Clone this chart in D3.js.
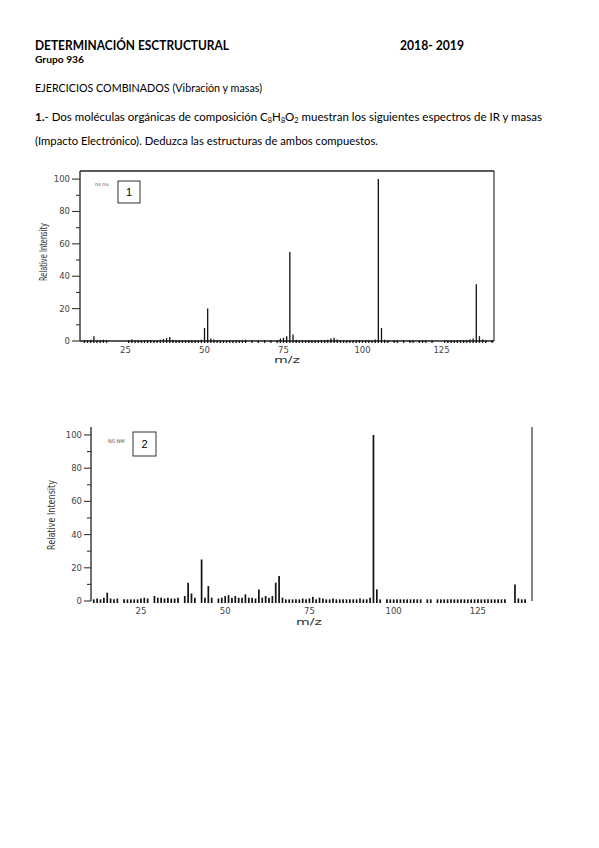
<!DOCTYPE html>
<html><head><meta charset="utf-8">
<script src="https://cdn.jsdelivr.net/npm/d3@7"></script>
<style>body{margin:0;background:#fff}</style>
</head><body><svg id="c" width="599" height="848"></svg>
<script>
// ---------- data ----------
const yTicks = [0, 20, 40, 60, 80, 100];
const yMinorTicks = [10, 30, 50, 70, 90];
const xTicks = [25, 50, 75, 100, 125];

// Spectrum 1 (m/z, relative intensity)
const spec1Mz = [12,13,14,15,16,17,18,19,26,27,28,29,30,31,32,33,34,35,36,37,38,39,40,41,42,43,44,45,46,47,48,49,50,51,52,53,54,55,56,57,58,59,60,61,62,63,65,67,69,71,73,74,75,76,77,78,79,80,81,82,83,84,85,86,87,88,89,90,91,92,93,94,95,96,97,98,99,100,101,102,103,104,105,106,107,108,110,111,113,115,116,118,119,120,122,126,127,128,129,130,131,132,133,134,135,136,137,138,139,141];
const spec1Int = [0.5,0.5,0.8,3,0.5,0.5,0.8,0.5,0.5,1,0.5,0.5,0.5,0.5,0.5,0.5,0.5,0.5,0.8,1.2,1.8,2.5,0.8,0.5,0.5,0.5,0.5,0.5,0.5,0.5,0.5,0.8,8,20,1.5,1,0.5,0.5,0.5,0.5,0.5,0.5,0.5,0.5,0.5,0.8,0.5,0.5,0.5,0.5,0.5,1.5,2,3,55,4,0.8,0.5,0.5,0.5,0.5,0.5,0.5,0.5,0.5,0.5,0.8,1.5,2,1,0.5,0.5,0.5,0.5,0.5,0.5,0.5,0.5,0.5,0.5,0.5,1,100,8,0.8,0.5,0.5,0.5,0.5,0.5,0.5,0.5,0.5,0.5,0.5,0.5,0.5,0.5,0.5,0.5,0.5,0.5,0.5,1,1.5,35,3,1,0.5,0.5];

// Spectrum 2 (m/z, relative intensity)
const spec2Mz = [11,12,13,14,15,16,17,18,20,21,22,23,24,25,26,27,29,30,31,32,33,34,35,36,38,39,40,41,43,44,45,46,48,49,50,51,52,53,54,55,56,57,58,59,60,61,62,63,64,65,66,67,68,69,70,71,72,73,74,75,76,77,78,79,80,81,82,83,84,85,86,87,88,89,90,91,92,93,94,95,96,98,99,100,101,102,103,104,105,106,107,108,110,111,113,114,115,116,117,118,119,120,121,122,123,124,125,126,127,128,129,130,131,132,133,136,137,138,139];
const spec2Int = [1,1.5,1,2,5,1.5,1,1.5,1,1,1,1,1,1.5,2,1.5,3,2,2,1.5,2,1.5,1.5,2,3,11,4.5,2,25,2,9,2,1.5,2,3,3.5,2,3,2,2,4,2,2,1.5,7,2,3,2,3,11,15,2,1,1,1,1,1,1.5,1,1.5,2.5,1,2,1.5,1,1,1.5,1,1,1,1,1,1,1,1.5,1,1,2,100,7,1,1,1,1,1,1,1,1,1,1,1,1,1,1,1,1,1,1,1,1,1,1,1,1,1,1,1,1,1,1,1,1,1,1,1,10,1.5,1,1];

const svg = d3.select("#c");
svg.append("rect").attr("width", 599).attr("height", 848).attr("fill", "#fff");

// ---------- header text ----------
const hdrFont = "Lato, 'Open Sans', 'Liberation Sans', sans-serif";
function line(txt, x, y, size, weight, len) {
  const t = svg.append("text").attr("x", x).attr("y", y)
    .attr("font-family", hdrFont).attr("font-size", size)
    .attr("font-weight", weight).attr("fill", "#000").text(txt);
  if (len) t.attr("textLength", len).attr("lengthAdjust", "spacingAndGlyphs");
  return t;
}
line("DETERMINACIÓN ESCTRUCTURAL", 35, 50, 12.5, "bold", 194);
line("2018- 2019", 400, 50, 12.5, "bold", 64);
line("Grupo 936", 35, 63, 9, "bold", 49);
line("EJERCICIOS COMBINADOS (Vibración y masas)", 35, 92, 11, "normal", 227);

const l1 = svg.append("text").attr("x", 35).attr("y", 121)
  .attr("font-family", hdrFont).attr("font-size", 11).attr("fill", "#000")
  .attr("textLength", 507).attr("lengthAdjust", "spacingAndGlyphs");
l1.append("tspan").attr("font-weight", "bold").text("1.");
l1.append("tspan").text("- Dos moléculas orgánicas de composición C");
l1.append("tspan").attr("font-size", 7).attr("dy", 2).text("8");
l1.append("tspan").attr("dy", -2).text("H");
l1.append("tspan").attr("font-size", 7).attr("dy", 2).text("8");
l1.append("tspan").attr("dy", -2).text("O");
l1.append("tspan").attr("font-size", 7).attr("dy", 2).text("2");
l1.append("tspan").attr("dy", -2).text(" muestran los siguientes espectros de IR y masas");
line("(Impacto Electrónico). Deduzca las estructuras de ambos compuestos.", 35, 145, 11, "normal", 343);

// ---------- spectrum drawing ----------
const axFont = "'DejaVu Sans', sans-serif";
function spectrum(cfg) {
  const g = svg.append("g");
  const x = d3.scaleLinear().domain(cfg.xDomain).range(cfg.xRange);
  const y = d3.scaleLinear().domain([0, cfg.yMax]).range(cfg.yRange);
  const x0 = cfg.xRange[0], x1 = cfg.xRange[1];
  const yb = y(0), yt = cfg.yRange[1];

  // frame
  g.append("line").attr("x1", x0).attr("x2", x0).attr("y1", yt).attr("y2", yb)
    .attr("stroke", "#222").attr("stroke-width", 1.3);
  g.append("line").attr("x1", x1).attr("x2", x1).attr("y1", yt).attr("y2", yb)
    .attr("stroke", "#444").attr("stroke-width", 1.3);
  if (cfg.top) g.append("line").attr("x1", x0).attr("x2", x1).attr("y1", yt).attr("y2", yt)
    .attr("stroke", "#222").attr("stroke-width", 1.3);
  if (cfg.bottom) g.append("line").attr("x1", x0).attr("x2", x1).attr("y1", yb).attr("y2", yb)
    .attr("stroke", "#222").attr("stroke-width", 1.3);

  // y ticks
  g.selectAll(".ym").data(yTicks).join("line")
    .attr("x1", x0 - cfg.majorLen).attr("x2", x0).attr("y1", d => y(d)).attr("y2", d => y(d))
    .attr("stroke", "#333").attr("stroke-width", 1.1);
  g.selectAll(".yn").data(yMinorTicks).join("line")
    .attr("x1", x0 - cfg.minorLen).attr("x2", x0).attr("y1", d => y(d)).attr("y2", d => y(d))
    .attr("stroke", "#333").attr("stroke-width", 1.1);
  g.selectAll(".yl").data(yTicks).join("text")
    .attr("x", cfg.labelRight).attr("y", d => y(d) + 3)
    .attr("text-anchor", "end").attr("font-family", axFont).attr("font-size", 8.5)
    .attr("fill", "#444").text(d => d);

  // x tick labels
  g.selectAll(".xl").data(xTicks).join("text")
    .attr("x", d => x(d)).attr("y", cfg.xLabelY)
    .attr("text-anchor", "middle").attr("font-family", axFont).attr("font-size", 8.5)
    .attr("fill", "#444").text(d => d);

  // peaks
  const pk = cfg.mz.map((m, i) => ({ m, v: cfg.int[i] }));
  g.selectAll(".pk").data(pk).join("line")
    .attr("x1", d => x(d.m)).attr("x2", d => x(d.m))
    .attr("y1", y(-1.2)).attr("y2", d => y(d.v))
    .attr("stroke", "#111").attr("stroke-width", cfg.peakW);

  // axis titles
  g.append("text").attr("transform", `translate(${cfg.yTitle[0]},${cfg.yTitle[1]}) rotate(-90)`)
    .attr("text-anchor", "middle").attr("font-family", axFont).attr("font-size", 10)
    .attr("fill", "#333").attr("textLength", cfg.yTitle[2]).attr("lengthAdjust", "spacingAndGlyphs")
    .text("Relative Intensity");
  g.append("text").attr("x", cfg.xTitle[0]).attr("y", cfg.xTitle[1])
    .attr("text-anchor", "middle").attr("font-family", axFont).attr("font-size", 9)
    .attr("fill", "#333").attr("textLength", 26).attr("lengthAdjust", "spacingAndGlyphs")
    .text("m/z");

  // source tag and number box
  g.append("text").attr("x", cfg.tag[0]).attr("y", cfg.tag[1])
    .attr("font-family", axFont).attr("font-size", 5).attr("fill", "#555")
    .text(cfg.tagText);
  g.append("rect").attr("x", cfg.box[0]).attr("y", cfg.box[1])
    .attr("width", cfg.box[2]).attr("height", cfg.box[3])
    .attr("fill", "#fff").attr("stroke", "#333").attr("stroke-width", 1);
  g.append("text").attr("x", cfg.box[0] + cfg.box[2] / 2).attr("y", cfg.box[1] + cfg.box[3] / 2 + 4)
    .attr("text-anchor", "middle").attr("font-family", "'Liberation Sans', Arial, sans-serif")
    .attr("font-size", 11).attr("fill", "#000").text(cfg.num);
}

spectrum({
  xDomain: [10.6, 141.6], xRange: [80, 494], yMax: 105, yRange: [341, 171],
  top: true, bottom: true, majorLen: 8, minorLen: 4, labelRight: 70, xLabelY: 353,
  mz: spec1Mz, int: spec1Int, peakW: 1.3,
  yTitle: [47, 252, 58], xTitle: [287, 363],
  tag: [95, 186], tagText: "ns nu", box: [118, 181, 22, 22], num: "1"
});

spectrum({
  xDomain: [10.18, 141.05], xRange: [91, 532], yMax: 104.8, yRange: [601, 427],
  top: false, bottom: false, majorLen: 7, minorLen: 4, labelRight: 82, xLabelY: 614,
  mz: spec2Mz, int: spec2Int, peakW: 1.7,
  yTitle: [55, 515, 70], xTitle: [309, 625],
  tag: [108, 443], tagText: "NS NM", box: [133, 432, 23, 24], num: "2"
});
</script>
</body></html>
